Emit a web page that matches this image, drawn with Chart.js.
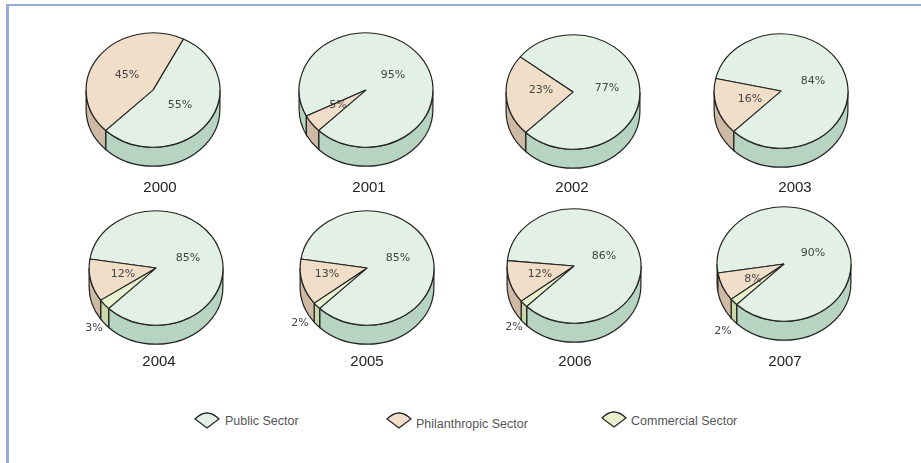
<!DOCTYPE html>
<html>
<head>
<meta charset="utf-8">
<title>Sector shares 2000-2007</title>
<script src="https://cdn.jsdelivr.net/npm/chart.js@4"></script>
<style>
    html, body { margin: 0; padding: 0; background: #fff; }
    body { position: relative; width: 921px; height: 463px; overflow: hidden; font-family: "Liberation Sans", sans-serif; }
    #frame { position: absolute; left: 6px; top: 4px; width: 930px; height: 480px; border-left: 3px solid #98a9da; border-top: 2px solid #98a9da; }
    canvas { position: absolute; }
    .legend-item { position: absolute; font-size: 12.5px; color: #555; line-height: 14px; white-space: nowrap; }
    svg { position: absolute; }
</style>
</head>
<body>
<div id="frame"></div>
<script>
const years = ['2000', '2001', '2002', '2003', '2004', '2005', '2006', '2007'];
const sectors = ['Public Sector', 'Philanthropic Sector', 'Commercial Sector'];

const publicShare = [55, 95, 77, 84, 85, 85, 86, 90];
const philanthropicShare = [45, 5, 23, 16, 12, 13, 12, 8];
const commercialShare = [0, 0, 0, 0, 3, 2, 2, 2];

const topColors = ['#e2f0e5', '#f1dec8', '#e9f2cf'];
const wallColors = ['#b7d3c2', '#cdb9a4', '#c9d8a8'];
const lineColor = '#222';

// slices go clockwise: public, commercial, philanthropic
const sliceOrder = [0, 2, 1];

// where each pie sits on the page
const pieCentres = [[153, 90], [366, 90], [573, 92], [781, 91], [156, 268], [367, 268], [574, 266], [784, 264]];
// hand placed label offsets from the pie centre, same order as the sectors
const labelOffsets = [
    [[27, 15], [-26, -15]],
    [[27, -15], [-28, 15]],
    [[34, -4], [-32, -2]],
    [[32, -10], [-31, 8]],
    [[32, -10], [-33, 6], [-62, 60]],
    [[31, -10], [-40, 6], [-67, 55]],
    [[30, -10], [-34, 8], [-60, 61]],
    [[29, -11], [-31, 15], [-61, 67]]
];
const yearOffsets = [[7, 98], [3, 98], [-1, 96], [14, 97], [3, 94], [0, 94], [1, 96], [1, 98]];

const canvasW = 200, canvasH = 216, pieSize = 135;
const squash = 0.855, depth = 19;

// tilts the pie and draws the side wall, the library only knows flat arcs
const tiltPlugin = {
    id: 'tilt',
    beforeDatasetsDraw(chart) {
        const ctx = chart.ctx;
        const arcs = chart.getDatasetMeta(0).data;
        const cx = arcs[0].x, cy = arcs[0].y;
        const rx = arcs[0].outerRadius, ry = rx * squash;
        ctx.save();
        ctx.lineWidth = 1.2;
        ctx.strokeStyle = lineColor;
        arcs.forEach((arc, i) => {
            if (arc.endAngle - arc.startAngle <= 0) return;
            for (let k = -1; k <= 1; k++) {
                const a0 = Math.max(arc.startAngle, 2 * Math.PI * k);
                const a1 = Math.min(arc.endAngle, Math.PI + 2 * Math.PI * k);
                if (a1 <= a0) continue;
                ctx.beginPath();
                ctx.ellipse(cx, cy, rx, ry, 0, a0, a1);
                ctx.ellipse(cx, cy + depth, rx, ry, 0, a1, a0, true);
                ctx.closePath();
                ctx.fillStyle = wallColors[sliceOrder[i]];
                ctx.fill();
                ctx.stroke();
            }
        });
        ctx.restore();
        ctx.save();
        ctx.translate(cx, cy);
        ctx.scale(1, squash);
        ctx.translate(-cx, -cy);
    },
    afterDatasetsDraw(chart, args, opts) {
        const ctx = chart.ctx;
        ctx.restore();
        const arcs = chart.getDatasetMeta(0).data;
        const cx = arcs[0].x, cy = arcs[0].y;
        const values = chart.data.datasets[0].data;
        ctx.save();
        ctx.textAlign = 'center';
        ctx.textBaseline = 'middle';
        ctx.fillStyle = '#444';
        ctx.font = '11px "DejaVu Sans"';
        values.forEach((v, i) => {
            if (!v) return;
            const at = opts.labels[sliceOrder[i]];
            ctx.fillText(v + '%', cx + at[0], cy + at[1]);
        });
        ctx.fillStyle = '#222';
        ctx.font = '15px "Liberation Sans"';
        ctx.fillText(opts.year, cx + opts.yearAt[0], cy + opts.yearAt[1]);
        ctx.restore();
    }
};

years.forEach((year, n) => {
    const canvas = document.createElement('canvas');
    canvas.style.left = (pieCentres[n][0] - canvasW / 2) + 'px';
    canvas.style.top = (pieCentres[n][1] - canvasH / 2) + 'px';
    document.body.appendChild(canvas);
    canvas.width = canvasW;
    canvas.height = canvasH;

    const shares = [publicShare[n], philanthropicShare[n], commercialShare[n]];
    new Chart(canvas, {
        type: 'pie',
        data: {
            labels: sliceOrder.map(s => sectors[s]),
            datasets: [{
                data: sliceOrder.map(s => shares[s]),
                backgroundColor: sliceOrder.map(s => topColors[s]),
                borderColor: lineColor,
                borderWidth: 1.2,
                clip: false
            }]
        },
        options: {
            responsive: false,
            animation: false,
            // the public slice always ends at the same spot, lower left
            rotation: 225 - 3.6 * publicShare[n],
            layout: { padding: { left: (canvasW - pieSize) / 2, right: (canvasW - pieSize) / 2, top: (canvasH - pieSize) / 2, bottom: (canvasH - pieSize) / 2 } },
            plugins: {
                legend: { display: false },
                tooltip: { enabled: false },
                tilt: { labels: labelOffsets[n], yearAt: yearOffsets[n], year: year }
            }
        },
        plugins: [tiltPlugin]
    });
});

// legend, built by hand since the swatches are little wedges
const legendIconX = [194, 386, 601];
const legendIconY = [412, 412, 411];
const legendTextX = [225, 416, 631];
const legendTextY = [414, 417, 414];
sectors.forEach((name, i) => {
    const ns = 'http://www.w3.org/2000/svg';
    const svg = document.createElementNS(ns, 'svg');
    svg.setAttribute('width', 26);
    svg.setAttribute('height', 20);
    svg.style.left = legendIconX[i] + 'px';
    svg.style.top = legendIconY[i] + 'px';
    const path = document.createElementNS(ns, 'path');
    path.setAttribute('d', 'M1 7 Q13 -5 25 7 L13 16 Z');
    path.setAttribute('fill', topColors[i]);
    path.setAttribute('stroke', lineColor);
    path.setAttribute('stroke-width', '1.2');
    svg.appendChild(path);
    document.body.appendChild(svg);

    const label = document.createElement('div');
    label.className = 'legend-item';
    label.textContent = name;
    label.style.left = legendTextX[i] + 'px';
    label.style.top = legendTextY[i] + 'px';
    document.body.appendChild(label);
});
</script>
</body>
</html>
